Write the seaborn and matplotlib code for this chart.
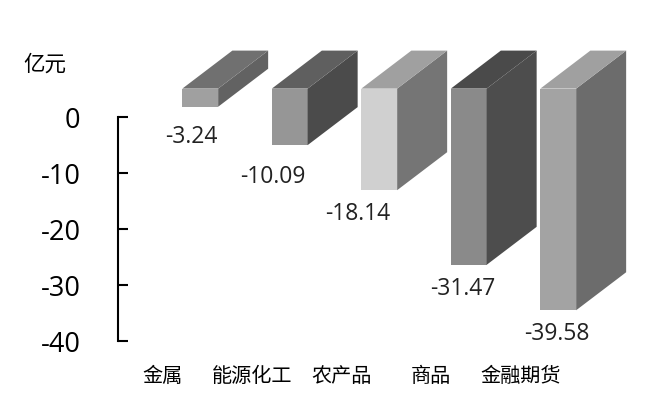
import matplotlib
matplotlib.use("Agg")
import matplotlib.pyplot as plt
from matplotlib.patches import Polygon
import seaborn as sns

categories = ["金属", "能源化工", "农产品", "商品", "金融期货"]
values = [-3.24, -10.09, -18.14, -31.47, -39.58]
value_labels = ["-3.24", "-10.09", "-18.14", "-31.47", "-39.58"]
yticks = [0, -10, -20, -30, -40]
ytick_labels = ["0", "-10", "-20", "-30", "-40"]

front_colors = ["#a0a0a0", "#969696", "#d0d0d0", "#8a8a8a", "#a3a3a3"]
top_colors = ["#707070", "#5f5f5f", "#a0a0a0", "#4a4a4a", "#a0a0a0"]
side_colors = ["#626262", "#4b4b4b", "#757575", "#4d4d4d", "#6c6c6c"]

# label offset from the bottom centre of each bar, in pixels
label_offsets = [(-9, -30), (-17, -32), (-22, -24), (-6, -24), (-1, -24)]

W, H = 665, 409
sns.set_theme(style="white")
plt.rcParams["font.family"] = ["Open Sans", "Noto Sans CJK SC", "DejaVu Sans"]
plt.rcParams["axes.unicode_minus"] = False

fig = plt.figure(figsize=(W / 100, H / 100), dpi=100)

# axis frame in pixels
left, right, top, bottom = 118, 565.5, 117, 341
ax = fig.add_axes([left / W, (H - bottom) / H, (right - left) / W, (bottom - top) / H])
ax.set_xlim(-0.5, 4.5)
ax.set_ylim(-40, 0)
ax.set_xticks(range(5))
ax.set_xticklabels(categories, fontsize=14.5, color="black", family=["Noto Sans CJK SC"])
ax.set_yticks(yticks)
ax.set_yticklabels(ytick_labels, fontsize=19.5, color="black")
ax.tick_params(axis="x", length=0, pad=18)
ax.tick_params(axis="y", direction="in", left=True, length=7.5, width=1.5, pad=27, color="black")
sns.despine(ax=ax, bottom=True)
ax.spines["left"].set_linewidth(1.5)
ax.spines["left"].set_color("black")

# the 3d bars sit up and to the right of the axis frame
shift_x, shift_y = 37.5, 28.4
ax_bars = fig.add_axes([(left + shift_x) / W, (H - bottom + shift_y) / H,
                        (right - left) / W, (bottom - top) / H])
sns.barplot(x=categories, y=values, hue=categories, palette=front_colors, saturation=1,
            width=0.4, legend=False, ax=ax_bars, linewidth=0)
ax_bars.set_xlim(-0.5, 4.5)
ax_bars.set_ylim(-40, 0)
ax_bars.set_axis_off()

depth_x = 50 / ((right - left) / 5)
depth_y = 38 / ((bottom - top) / 40)

for i, bar in enumerate(ax_bars.patches):
    bar.set_clip_on(False)
    x0 = bar.get_x()
    x1 = x0 + bar.get_width()
    val = values[i]
    side = Polygon([(x1, 0), (x1 + depth_x, depth_y), (x1 + depth_x, val + depth_y), (x1, val)],
                   closed=True, facecolor=side_colors[i], edgecolor="none", clip_on=False)
    roof = Polygon([(x0, 0), (x0 + depth_x, depth_y), (x1 + depth_x, depth_y), (x1, 0)],
                   closed=True, facecolor=top_colors[i], edgecolor="none", clip_on=False)
    ax_bars.add_patch(side)
    ax_bars.add_patch(roof)
    ax_bars.annotate(value_labels[i], xy=((x0 + x1) / 2, val), xytext=label_offsets[i],
                     textcoords="offset pixels", ha="center", va="center",
                     fontsize=16.5, color="#222222", annotation_clip=False)

fig.text(45 / W, (H - 65) / H, "亿元", fontsize=15.5, color="black", ha="center", va="center",
         family=["Noto Sans CJK SC"])

fig.savefig("out.png", dpi=100)
